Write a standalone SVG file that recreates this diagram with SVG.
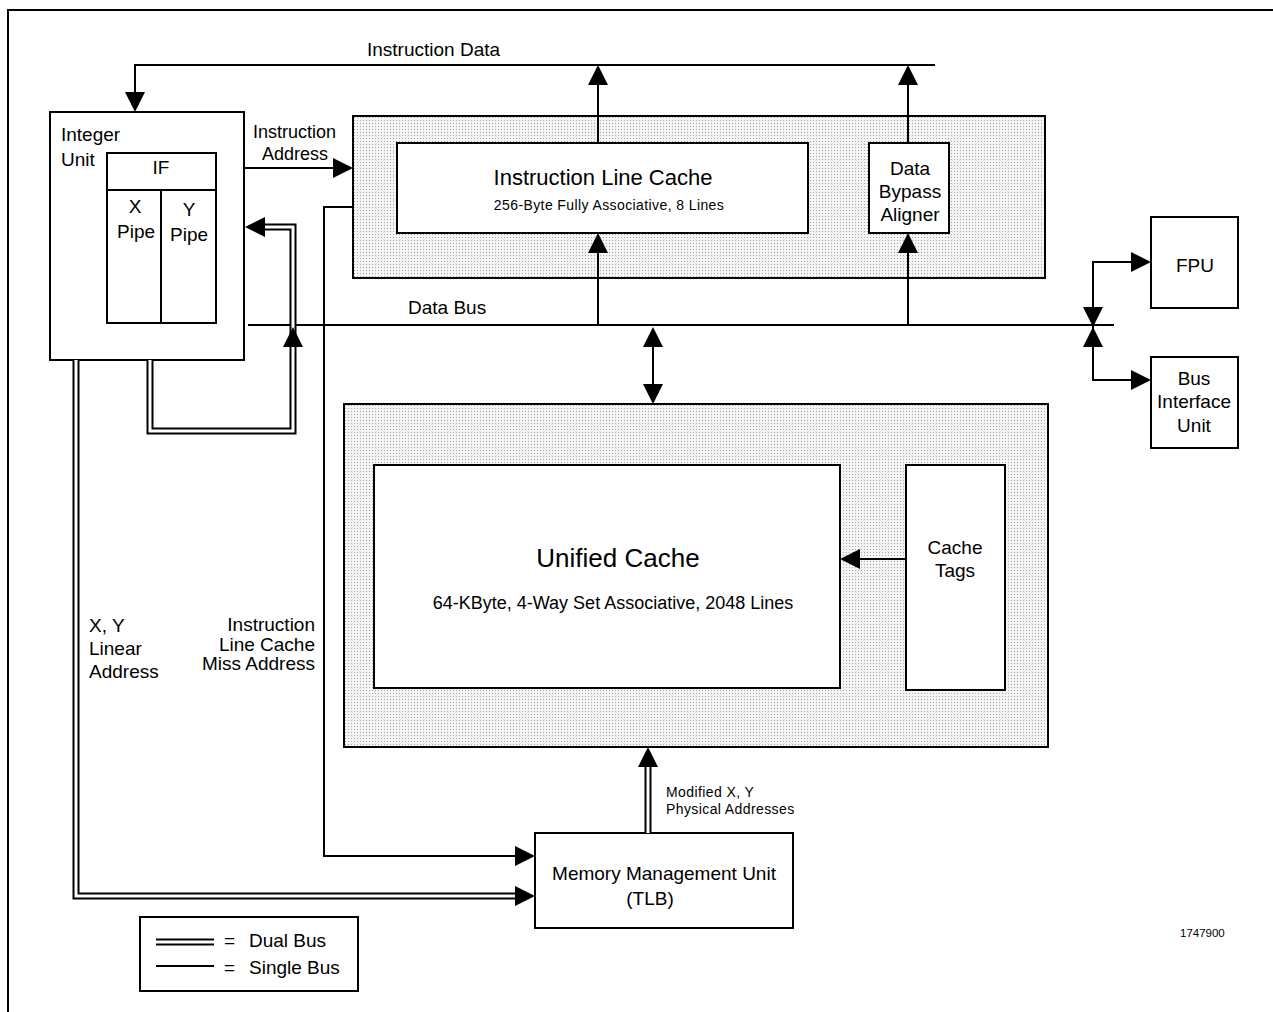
<svg xmlns="http://www.w3.org/2000/svg" width="1273" height="1012" viewBox="0 0 1273 1012">
<style>
text{font-family:"Liberation Sans",Arial,sans-serif;fill:#000}
.t19{font-size:19px}
.box{fill:#fff;stroke:#000;stroke-width:2}
.stip{fill:url(#dots);stroke:#000;stroke-width:2}
.ln{fill:none;stroke:#000;stroke-width:2}
.dO{fill:none;stroke:#000;stroke-width:7}
.dI{fill:none;stroke:#fff;stroke-width:3}
.ah{fill:#000}
.mid{text-anchor:middle}
.end{text-anchor:end}
</style>
<defs>
<pattern id="dots" width="3" height="3" patternUnits="userSpaceOnUse">
<rect width="3" height="3" fill="#f4f4f4"/>
<rect width="1" height="1" fill="#a8a8a8"/>
</pattern>
<marker id="arr" markerUnits="userSpaceOnUse" markerWidth="20" markerHeight="20" refX="0" refY="10" orient="auto-start-reverse" viewBox="0 0 20 20">
<path d="M0,0 L20,10 L0,20 z" fill="#000"/>
</marker>
</defs>
<rect width="1273" height="1012" fill="#fff"/>
<path class="ln" d="M8,1012 V10 H1273"/>

<g id="integer-unit">
<rect class="box" x="50" y="112" width="194" height="248"/>
<text class="t19" x="61" y="141">Integer</text>
<text class="t19" x="61" y="166">Unit</text>
<rect class="box" x="107" y="153" width="109" height="170"/>
<path class="ln" d="M107,190 H216 M161,190 V323"/>
<text class="t19 mid" x="161" y="174">IF</text>
<text class="t19 mid" x="135" y="213">X</text>
<text class="t19 mid" x="136" y="238">Pipe</text>
<text class="t19 mid" x="189" y="216">Y</text>
<text class="t19 mid" x="189" y="241">Pipe</text>
</g>

<g id="instruction-line-cache">
<rect class="stip" x="353" y="116" width="692" height="162"/>
<rect class="box" x="397" y="143" width="411" height="90"/>
<text class="mid" x="603" y="185" font-size="22">Instruction Line Cache</text>
<text class="mid" x="609" y="210" font-size="14" letter-spacing="0.4">256-Byte Fully Associative, 8 Lines</text>
</g>

<g id="data-bypass-aligner">
<rect class="box" x="869" y="143" width="80" height="90"/>
<text class="t19 mid" x="910" y="175">Data</text>
<text class="t19 mid" x="910" y="198">Bypass</text>
<text class="t19 mid" x="910" y="221">Aligner</text>
</g>

<g id="fpu">
<rect class="box" x="1151" y="217" width="87" height="91"/>
<text class="t19 mid" x="1195" y="272">FPU</text>
</g>

<g id="bus-interface-unit">
<rect class="box" x="1151" y="357" width="87" height="91"/>
<text class="t19 mid" x="1194" y="385">Bus</text>
<text class="t19 mid" x="1194" y="408">Interface</text>
<text class="t19 mid" x="1194" y="432">Unit</text>
</g>

<g id="unified-cache">
<rect class="stip" x="344" y="404" width="704" height="343"/>
<rect class="box" x="374" y="465" width="466" height="223"/>
<text class="mid" x="618" y="567" font-size="26">Unified Cache</text>
<text class="mid" x="613" y="609" font-size="18">64-KByte, 4-Way Set Associative, 2048 Lines</text>
</g>

<g id="cache-tags">
<rect class="box" x="906" y="465" width="99" height="225"/>
<text class="t19 mid" x="955" y="554">Cache</text>
<text class="t19 mid" x="955" y="577">Tags</text>
</g>

<g id="mmu">
<rect class="box" x="535" y="833" width="258" height="95"/>
<text class="t19 mid" x="664" y="880">Memory Management Unit</text>
<text class="t19 mid" x="650" y="905">(TLB)</text>
</g>

<g id="legend">
<rect class="box" x="140" y="917" width="218" height="74"/>
<path class="dO" d="M156,942 H214"/>
<path class="dI" d="M156,942 H214"/>
<path class="ln" d="M156,966 H214"/>
<text class="t19" x="224" y="947">=</text>
<text class="t19" x="249" y="947">Dual Bus</text>
<text class="t19" x="224" y="974">=</text>
<text class="t19" x="249" y="974">Single Bus</text>
</g>

<g id="connectors">
<path class="ln" d="M935,65 H135 V92" marker-end="url(#arr)"/>
<path class="ln" d="M598,143 V85" marker-end="url(#arr)"/>
<path class="ln" d="M908,143 V85" marker-end="url(#arr)"/>
<path class="ln" d="M245,168 H333" marker-end="url(#arr)"/>
<path class="ln" d="M248,325 H1114"/>
<path class="ln" d="M598,325 V253" marker-end="url(#arr)"/>
<path class="ln" d="M908,325 V253" marker-end="url(#arr)"/>
<path class="ln" d="M653,347 V384" marker-start="url(#arr)" marker-end="url(#arr)"/>
<path class="ln" d="M906,559 H860" marker-end="url(#arr)"/>
<path class="ln" d="M353,207 H324 V856 H515" marker-end="url(#arr)"/>
<path class="ln" d="M1131,262 H1093 V380 H1131" marker-start="url(#arr)" marker-end="url(#arr)"/>
<polygon class="ah" points="1083,307 1103,307 1093,327"/>
<polygon class="ah" points="1083,347 1103,347 1093,327"/>
<path class="dO" d="M150,360 V431 H293 V227 H265" marker-end="url(#arr)"/>
<path class="dI" d="M150,360 V431 H293 V227 H265"/>
<polygon class="ah" points="283,347 303,347 293,327"/>
<path class="dO" d="M76,360 V896 H515" marker-end="url(#arr)"/>
<path class="dI" d="M76,360 V896 H515"/>
<path class="dO" d="M648,833 V767" marker-end="url(#arr)"/>
<path class="dI" d="M648,833 V767"/>
</g>

<g id="labels">
<text class="t19" x="367" y="56">Instruction Data</text>
<text x="253" y="138" font-size="18">Instruction</text>
<text x="262" y="160" font-size="18">Address</text>
<text class="t19" x="408" y="314">Data Bus</text>
<text class="t19" x="89" y="632">X, Y</text>
<text class="t19" x="89" y="655">Linear</text>
<text class="t19" x="89" y="678">Address</text>
<text class="t19 end" x="315" y="631">Instruction</text>
<text class="t19 end" x="315" y="651">Line Cache</text>
<text class="t19 end" x="315" y="670">Miss Address</text>
<text x="666" y="797" font-size="14" letter-spacing="0.4">Modified X, Y</text>
<text x="666" y="814" font-size="14" letter-spacing="0.4">Physical Addresses</text>
<text x="1180" y="937" font-size="11.5">1747900</text>
</g>
</svg>
